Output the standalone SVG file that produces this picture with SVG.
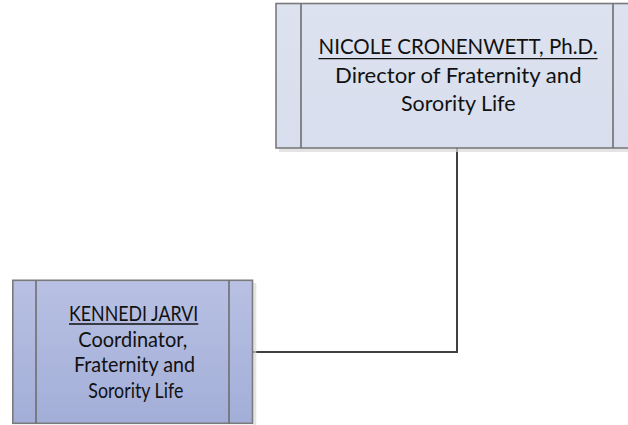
<svg xmlns="http://www.w3.org/2000/svg" width="628" height="425" viewBox="0 0 628 425">
  <defs>
    <linearGradient id="gTop" x1="0" y1="0" x2="0" y2="1">
      <stop offset="0" stop-color="#dde2f0"/>
      <stop offset="1" stop-color="#d8deed"/>
    </linearGradient>
    <linearGradient id="gBot" x1="0" y1="0" x2="0" y2="1">
      <stop offset="0" stop-color="#b8c1e3"/>
      <stop offset="1" stop-color="#a3aed8"/>
    </linearGradient>
    <style>
      .box { stroke: #7a7a7a; stroke-width: 1.6; }
      .div { stroke: #6e6e6e; stroke-width: 1.6; fill: none; }
      .shadow { fill: #d9d9d9; opacity: 0.7; }
      .t { font-family: Lato, "Liberation Sans", sans-serif; fill: #111111; text-anchor: middle; }
      .top { font-size: 21.5px; }
      .bot { font-size: 20.5px; }
      .ul { stroke: #111111; stroke-width: 1.3; }
      .conn { stroke: #404040; stroke-width: 2; fill: none; }
    </style>
  </defs>

  <g id="connectors">
    <polyline class="conn" points="457,148 457,352 252.5,352"/>
  </g>

  <g id="node-cronenwett">
    <rect class="shadow" x="279" y="148.5" width="362" height="3.5"/>
    <rect class="box" x="276" y="3.5" width="362" height="144.5" fill="url(#gTop)"/>
    <line class="div" x1="301" y1="3.5" x2="301" y2="148"/>
    <line class="div" x1="613" y1="3.5" x2="613" y2="148"/>
    <text class="t top" x="458" y="54.3" textLength="279" lengthAdjust="spacingAndGlyphs">NICOLE CRONENWETT, Ph.D.</text>
    <line class="ul" x1="318.5" y1="58.6" x2="597.5" y2="58.6"/>
    <text class="t top" x="458.3" y="82.7" textLength="246.5" lengthAdjust="spacingAndGlyphs">Director of Fraternity and</text>
    <text class="t top" x="458.3" y="111" textLength="114.7" lengthAdjust="spacingAndGlyphs">Sorority Life</text>
  </g>

  <g id="node-jarvi">
    <rect class="shadow" x="253.3" y="283" width="3" height="142"/>
    <rect class="box" x="12.8" y="280.3" width="239.7" height="143" fill="url(#gBot)"/>
    <line class="div" x1="36" y1="280.3" x2="36" y2="423.3"/>
    <line class="div" x1="229" y1="280.3" x2="229" y2="423.3"/>
    <text class="t bot" x="133.7" y="320.7" textLength="129.3" lengthAdjust="spacingAndGlyphs">KENNEDI JARVI</text>
    <line class="ul" x1="69" y1="324" x2="198.3" y2="324"/>
    <text class="t bot" x="132.8" y="346.6" textLength="109" lengthAdjust="spacingAndGlyphs">Coordinator,</text>
    <text class="t bot" x="134.5" y="372.4" textLength="121" lengthAdjust="spacingAndGlyphs">Fraternity and</text>
    <text class="t bot" x="135.8" y="397.6" textLength="95" lengthAdjust="spacingAndGlyphs">Sorority Life</text>
  </g>
</svg>
